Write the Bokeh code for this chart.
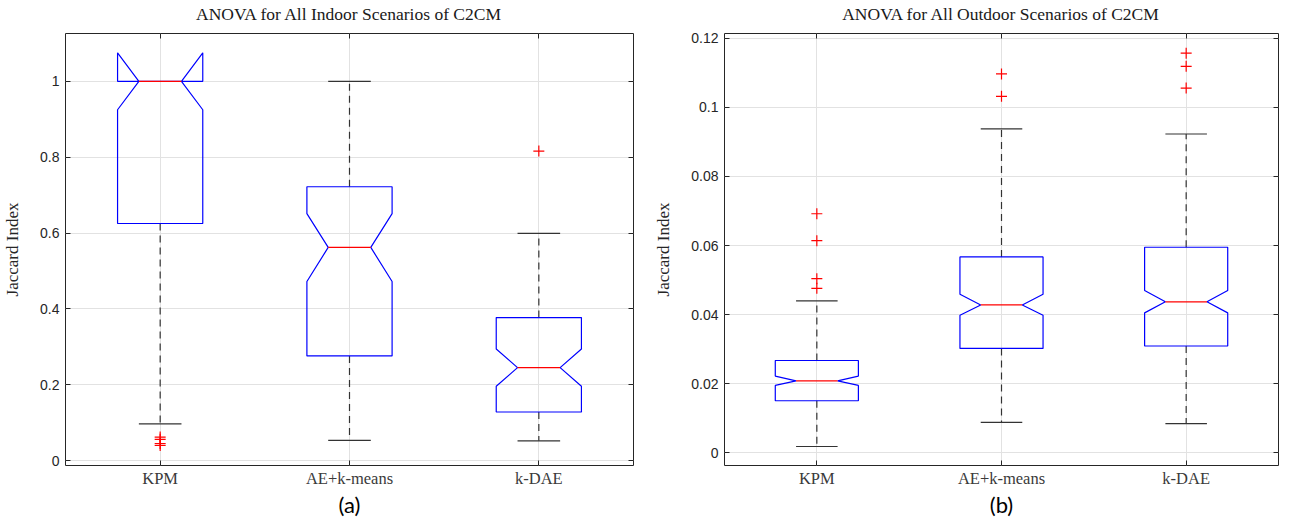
from bokeh.plotting import figure
from bokeh.models import FixedTicker, LinearAxis, Range1d, CustomLabelingPolicy
from bokeh.layouts import row
from bokeh.embed import file_html
from bokeh.resources import INLINE

categories = ["KPM", "AE+k-means", "k-DAE"]
positions = [1, 2, 3]

# ---- (a) Indoor ----
in_q1 = [0.625, 0.276, 0.128]
in_med = [1.000, 0.562, 0.245]
in_q3 = [1.000, 0.722, 0.377]
in_notch_lo = [0.925, 0.472, 0.196]
in_notch_hi = [1.075, 0.651, 0.294]
in_whisk_lo = [0.097, 0.053, 0.052]
in_whisk_hi = [1.000, 1.000, 0.599]
in_out_pos = [1, 1, 1, 1, 3]
in_out_val = [0.062, 0.056, 0.045, 0.040, 0.816]
in_yticks = [0, 0.2, 0.4, 0.6, 0.8, 1.0]
in_ylabels = ["0", "0.2", "0.4", "0.6", "0.8", "1"]
in_yrange = (-0.013, 1.126)

# ---- (b) Outdoor ----
out_q1 = [0.01505, 0.0302, 0.0309]
out_med = [0.0208, 0.0428, 0.0437]
out_q3 = [0.0267, 0.0567, 0.0595]
out_notch_lo = [0.0195, 0.0398, 0.0405]
out_notch_hi = [0.0222, 0.0459, 0.0470]
out_whisk_lo = [0.0018, 0.0088, 0.0084]
out_whisk_hi = [0.0440, 0.0938, 0.0923]
out_out_pos = [1, 1, 1, 1, 2, 2, 3, 3, 3]
out_out_val = [0.0692, 0.0614, 0.0504, 0.0476, 0.1097, 0.1032, 0.1157, 0.1119, 0.1056]
out_yticks = [0, 0.02, 0.04, 0.06, 0.08, 0.1, 0.12]
out_ylabels = ["0", "0.02", "0.04", "0.06", "0.08", "0.1", "0.12"]
out_yrange = (-0.0037, 0.1214)

BOX_HALF = 0.225
NOTCH_HALF = 0.1125
CAP_HALF = 0.1125

AX_COLOR = "#262626"
GRID_COLOR = "#e2e2e2"


def panel(title, q1, med, q3, nlo, nhi, wlo, whi, opos, oval, yticks, ylabels,
          yrange, caption, width, bl, br):
    p = figure(width=width, height=520, x_range=Range1d(0.5, 3.5),
               y_range=Range1d(*yrange), output_backend="svg",
               toolbar_location=None, min_border_left=bl, min_border_right=br,
               min_border_top=33, min_border_bottom=55)
    p.background_fill_color = "white"
    p.border_fill_color = "white"
    p.outline_line_color = AX_COLOR
    p.outline_line_width = 1
    p.outline_line_alpha = 1

    # title
    p.title.text = title
    p.title.align = "center"
    p.title.text_font = "Liberation Serif"
    p.title.text_font_size = "17.5px"
    p.title.text_font_style = "normal"
    p.title.text_color = "#1a1a1a"
    p.title.standoff = -3

    # mirrored tick axes (no labels)
    p.add_layout(LinearAxis(), "right")
    p.add_layout(LinearAxis(), "above")

    xt = FixedTicker(ticks=positions)
    yt = FixedTicker(ticks=yticks)
    for ax in p.xaxis:
        ax.ticker = xt
    for ax in p.yaxis:
        ax.ticker = yt
    for ax in list(p.xaxis) + list(p.yaxis):
        ax.axis_line_color = None
        ax.major_tick_in = 5
        ax.major_tick_out = 0
        ax.minor_tick_line_color = None
        ax.major_tick_line_color = AX_COLOR
        ax.major_tick_line_width = 1

    bx = p.below[0]
    bx.major_label_overrides = {pos: c for pos, c in zip(positions, categories)}
    bx.major_label_text_font = "Liberation Serif"
    bx.major_label_text_font_size = "16.5px"
    bx.major_label_text_color = "#3a3a3a"
    bx.major_label_standoff = 3
    bx.axis_label = caption
    bx.axis_label_text_font = "Lato"
    bx.axis_label_text_font_size = "22px"
    bx.axis_label_text_font_style = "normal"
    bx.axis_label_text_color = "#000000"
    bx.axis_label_standoff = 0

    ly = p.left[0]
    ly.major_label_overrides = {t: s for t, s in zip(yticks, ylabels)}
    ly.major_label_text_font = "Liberation Sans"
    ly.major_label_text_font_size = "14px"
    ly.major_label_text_color = AX_COLOR
    ly.major_label_standoff = 6
    ly.axis_label = "Jaccard Index"
    ly.axis_label_text_font = "Liberation Serif"
    ly.axis_label_text_font_size = "17px"
    ly.axis_label_text_font_style = "normal"
    ly.axis_label_text_color = AX_COLOR
    ly.axis_label_standoff = 15

    for ax in [p.right[0], p.above[0]]:
        ax.major_label_policy = CustomLabelingPolicy(code="return []")
        ax.major_label_standoff = 0

    p.xgrid.ticker = xt
    p.ygrid.ticker = yt
    p.xgrid.grid_line_color = GRID_COLOR
    p.ygrid.grid_line_color = GRID_COLOR

    # whiskers (dashed) and caps, only where the whisker has length
    wx, wy0, wy1 = [], [], []
    cx0, cx1, cy = [], [], []
    for x, a, b, lo, hi in zip(positions, q1, q3, wlo, whi):
        if hi > b:
            wx.append(x); wy0.append(b); wy1.append(hi)
            cx0.append(x - CAP_HALF); cx1.append(x + CAP_HALF); cy.append(hi)
        if lo < a:
            wx.append(x); wy0.append(a); wy1.append(lo)
            cx0.append(x - CAP_HALF); cx1.append(x + CAP_HALF); cy.append(lo)
    p.segment(x0=wx, y0=wy0, x1=wx, y1=wy1, line_color="#333333",
              line_width=1.2, line_dash="7 5")
    p.segment(x0=cx0, y0=cy, x1=cx1, y1=cy, line_color="#333333", line_width=1.2)

    # notched boxes
    xs, ys = [], []
    for x, a, m, b, nl, nh in zip(positions, q1, med, q3, nlo, nhi):
        xs.append([x - BOX_HALF, x + BOX_HALF, x + BOX_HALF, x + NOTCH_HALF,
                   x + BOX_HALF, x + BOX_HALF, x - BOX_HALF, x - BOX_HALF,
                   x - NOTCH_HALF, x - BOX_HALF])
        ys.append([a, a, nl, m, nh, b, b, nh, m, nl])
    p.patches(xs=xs, ys=ys, fill_alpha=0, line_color="#0000ff", line_width=1.2)

    # medians
    p.segment(x0=[x - NOTCH_HALF for x in positions], y0=med,
              x1=[x + NOTCH_HALF for x in positions], y1=med,
              line_color="#ff0000", line_width=1.2)

    # outliers
    p.scatter(x=opos, y=oval, marker="cross", size=11, line_color="#ff0000",
              line_width=1.2)
    return p


pa = panel("ANOVA for All Indoor Scenarios of C2CM", in_q1, in_med, in_q3,
           in_notch_lo, in_notch_hi, in_whisk_lo, in_whisk_hi, in_out_pos,
           in_out_val, in_yticks, in_ylabels, in_yrange, "(a)", 651, 61, 2)
pb = panel("ANOVA for All Outdoor Scenarios of C2CM", out_q1, out_med, out_q3,
           out_notch_lo, out_notch_hi, out_whisk_lo, out_whisk_hi, out_out_pos,
           out_out_val, out_yticks, out_ylabels, out_yrange, "(b)", 651, 68, 3)

layout = row(pa, pb)
open("out.html", "w").write(file_html(layout, INLINE))
